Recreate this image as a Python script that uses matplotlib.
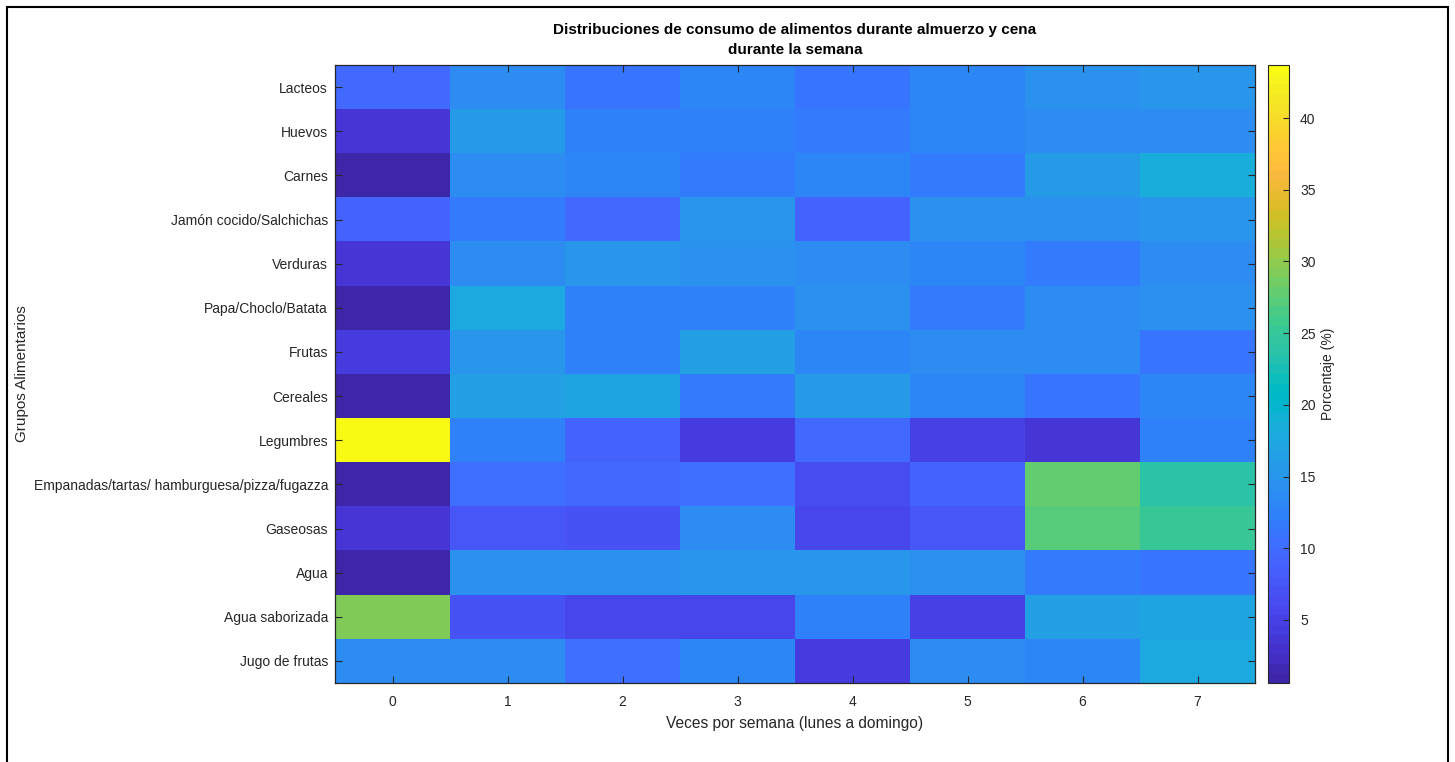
import numpy as np
import matplotlib
matplotlib.use("Agg")
import matplotlib.pyplot as plt
from matplotlib.colors import ListedColormap
from matplotlib.patches import Rectangle

plt.rcParams['font.family'] = ['Liberation Sans', 'DejaVu Sans']

# food groups (rows) and times per week (columns)
grupos = ["Lacteos", "Huevos", "Carnes", "Jamón cocido/Salchichas", "Verduras",
          "Papa/Choclo/Batata", "Frutas", "Cereales", "Legumbres",
          "Empanadas/tartas/ hamburguesa/pizza/fugazza", "Gaseosas", "Agua",
          "Agua saborizada", "Jugo de frutas"]
veces = [0, 1, 2, 3, 4, 5, 6, 7]

# percentages per row
lacteos = [9.5, 14.0, 11.0, 13.3, 11.0, 13.0, 14.5, 15.0]
huevos = [3.6, 16.0, 12.5, 12.5, 11.5, 13.0, 14.0, 14.0]
carnes = [0.6, 14.0, 13.0, 12.0, 13.0, 12.0, 16.0, 18.5]
jamon = [9.0, 12.0, 10.0, 15.0, 9.3, 14.5, 14.3, 15.3]
verduras = [3.6, 14.0, 15.0, 14.2, 13.7, 12.8, 11.8, 13.6]
papa = [0.7, 17.8, 12.2, 12.7, 14.2, 11.8, 13.8, 14.6]
frutas = [4.3, 15.0, 12.2, 16.2, 12.8, 13.8, 13.8, 10.8]
cereales = [0.9, 16.6, 17.4, 12.0, 16.0, 13.2, 10.8, 13.3]
legumbres = [43.7, 12.5, 9.0, 4.5, 10.0, 5.0, 3.3, 12.5]
empanadas = [0.8, 10.5, 10.0, 10.3, 6.5, 9.0, 28.0, 24.0]
gaseosas = [3.6, 7.8, 7.0, 13.7, 5.5, 7.8, 27.5, 25.5]
agua = [0.9, 14.3, 14.3, 15.0, 15.0, 14.3, 11.8, 11.3]
agua_sab = [29.5, 7.0, 5.5, 5.5, 12.5, 5.0, 16.6, 17.3]
jugo = [13.8, 14.0, 10.3, 13.2, 4.5, 13.6, 13.3, 18.0]

datos = np.array([lacteos, huevos, carnes, jamon, verduras, papa, frutas,
                  cereales, legumbres, empanadas, gaseosas, agua, agua_sab, jugo])

# MATLAB parula (64)
parula = ListedColormap([
    [0.2422, 0.1504, 0.6603], [0.2504, 0.1650, 0.7076], [0.2578, 0.1818, 0.7511],
    [0.2647, 0.1978, 0.7952], [0.2706, 0.2147, 0.8364], [0.2751, 0.2342, 0.8710],
    [0.2783, 0.2559, 0.8991], [0.2803, 0.2782, 0.9221], [0.2813, 0.3006, 0.9414],
    [0.2810, 0.3228, 0.9579], [0.2795, 0.3447, 0.9717], [0.2760, 0.3667, 0.9829],
    [0.2699, 0.3892, 0.9906], [0.2602, 0.4123, 0.9952], [0.2440, 0.4358, 0.9988],
    [0.2206, 0.4603, 0.9973], [0.1963, 0.4847, 0.9892], [0.1834, 0.5074, 0.9798],
    [0.1786, 0.5289, 0.9682], [0.1764, 0.5499, 0.9520], [0.1687, 0.5703, 0.9359],
    [0.1540, 0.5902, 0.9218], [0.1460, 0.6091, 0.9079], [0.1380, 0.6276, 0.8973],
    [0.1248, 0.6459, 0.8883], [0.1113, 0.6630, 0.8763], [0.0952, 0.6798, 0.8598],
    [0.0689, 0.6948, 0.8394], [0.0297, 0.7082, 0.8163], [0.0036, 0.7203, 0.7917],
    [0.0067, 0.7312, 0.7660], [0.0433, 0.7411, 0.7394], [0.0964, 0.7500, 0.7120],
    [0.1408, 0.7584, 0.6842], [0.1717, 0.7670, 0.6554], [0.1938, 0.7758, 0.6251],
    [0.2161, 0.7843, 0.5923], [0.2470, 0.7918, 0.5567], [0.2906, 0.7973, 0.5188],
    [0.3406, 0.8008, 0.4789], [0.3909, 0.8029, 0.4354], [0.4456, 0.8024, 0.3909],
    [0.5044, 0.7993, 0.3480], [0.5616, 0.7942, 0.3045], [0.6174, 0.7876, 0.2612],
    [0.6720, 0.7793, 0.2227], [0.7242, 0.7698, 0.1910], [0.7738, 0.7598, 0.1646],
    [0.8203, 0.7498, 0.1535], [0.8634, 0.7406, 0.1596], [0.9035, 0.7330, 0.1774],
    [0.9393, 0.7288, 0.2100], [0.9728, 0.7298, 0.2394], [0.9956, 0.7434, 0.2371],
    [0.9970, 0.7659, 0.2199], [0.9952, 0.7893, 0.2028], [0.9892, 0.8136, 0.1885],
    [0.9786, 0.8386, 0.1766], [0.9676, 0.8639, 0.1643], [0.9610, 0.8890, 0.1537],
    [0.9597, 0.9135, 0.1423], [0.9628, 0.9373, 0.1265], [0.9691, 0.9606, 0.1064],
    [0.9769, 0.9839, 0.0805]])

txt = '#262626'

fig = plt.figure(figsize=(14.55, 7.62), dpi=100)
ax = fig.add_axes([335 / 1455, 79 / 762, 920 / 1455, 618 / 762])
cax = fig.add_axes([1268 / 1455, 79 / 762, 21 / 1455, 618 / 762])

im = ax.imshow(datos, cmap=parula, aspect='auto', interpolation='nearest',
               vmin=datos.min(), vmax=datos.max())

ax.set_xticks(range(len(veces)))
ax.set_xticklabels([str(v) for v in veces])
ax.set_yticks(range(len(grupos)))
ax.set_yticklabels(grupos)
ax.tick_params(direction='in', length=5, width=0.8, color=txt, labelcolor=txt,
               labelsize=10, top=True, right=True)
ax.tick_params(axis='y', pad=5)
ax.tick_params(axis='x', pad=9)
for s in ax.spines.values():
    s.set_color(txt)
    s.set_linewidth(0.9)

ax.set_xlabel('Veces por semana (lunes a domingo)', fontsize=11.2, color=txt, labelpad=5)
ax.set_ylabel('Grupos Alimentarios', fontsize=11, color=txt)
ax.yaxis.set_label_coords(-0.333, 0.5)
ax.set_title('Distribuciones de consumo de alimentos durante almuerzo y cena\ndurante la semana',
             fontsize=11, fontweight='bold', color='black', pad=8, linespacing=1.5)

cb = fig.colorbar(im, cax=cax)
cb.set_ticks([5, 10, 15, 20, 25, 30, 35, 40])
cb.ax.tick_params(direction='in', length=4, width=0.8, color=txt, labelcolor=txt,
                  labelsize=10, pad=8)
cb.outline.set_edgecolor(txt)
cb.outline.set_linewidth(0.8)
cb.set_label('Porcentaje (%)', fontsize=10, color=txt, labelpad=4)

# screenshot frame
fig.add_artist(Rectangle((7 / 1455, -0.05), 1441 / 1455, 1.05 - 7 / 762,
                         transform=fig.transFigure, fill=False, edgecolor='black',
                         linewidth=1.5, clip_on=False))

fig.savefig('out.png', dpi=100)
